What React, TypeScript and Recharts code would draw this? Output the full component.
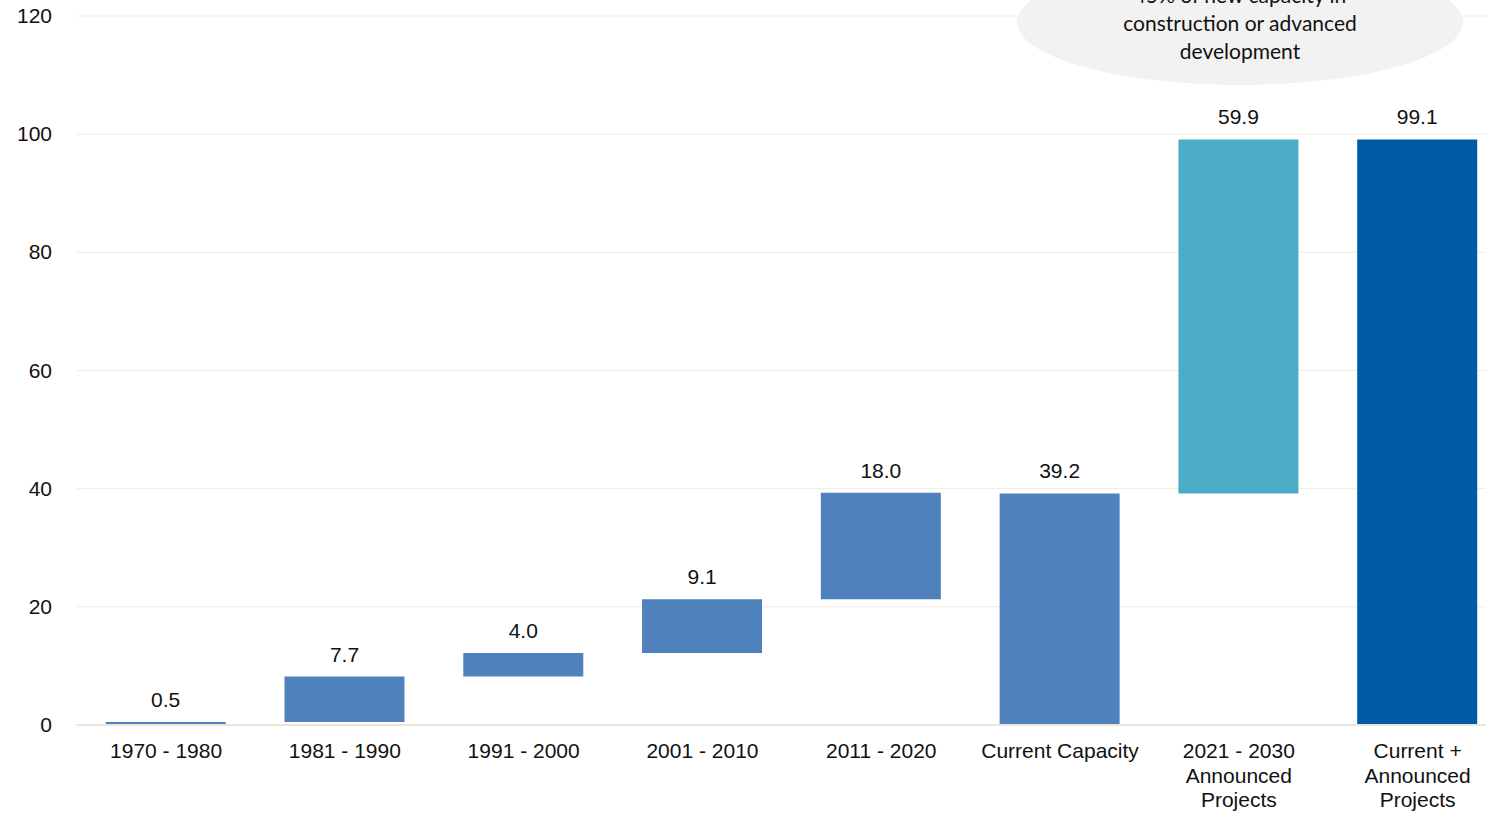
import React from "react";
import { BarChart, Bar, XAxis, YAxis, CartesianGrid, Cell, LabelList } from "recharts";

const categories = [
  "1970 - 1980",
  "1981 - 1990",
  "1991 - 2000",
  "2001 - 2010",
  "2011 - 2020",
  "Current Capacity",
  "2021 - 2030\nAnnounced\nProjects",
  "Current +\nAnnounced\nProjects",
];
const baseValues = [0, 0.5, 8.2, 12.2, 21.3, 0, 39.2, 0];
const stepValues = [0.5, 7.7, 4.0, 9.1, 18.0, 39.2, 59.9, 99.1];
const barColors = ["#4f81bd", "#4f81bd", "#4f81bd", "#4f81bd", "#4f81bd", "#4f81bd", "#4aacc6", "#005ba5"];
const yTicks = [0, 20, 40, 60, 80, 100, 120];
const calloutLines = ["45% of new capacity in", "construction or advanced", "development"];

const data = categories.map((c, i) => ({
  name: c,
  base: baseValues[i],
  value: stepValues[i],
}));

const FONT = "'Liberation Sans', Arial, sans-serif";
const SHIFT = 60;

const XTick = (props: any) => {
  const { x, y, payload } = props;
  const lines = String(payload.value).split("\n");
  return (
    <g>
      {lines.map((l: string, i: number) => (
        <text
          key={i}
          x={x}
          y={y + 25 + i * 24.5}
          textAnchor="middle"
          fontFamily={FONT}
          fontSize={21}
          fill="#111"
        >
          {l}
        </text>
      ))}
    </g>
  );
};

const YTick = (props: any) => {
  const { y, payload } = props;
  return (
    <text x={52} y={y + 7} textAnchor="end" fontFamily={FONT} fontSize={21} fill="#111">
      {payload.value}
    </text>
  );
};

const ValueLabel = (props: any) => {
  const { x, y, width, value } = props;
  return (
    <text
      x={x + width / 2}
      y={y - 15}
      textAnchor="middle"
      fontFamily={FONT}
      fontSize={21}
      fill="#111"
    >
      {Number(value).toFixed(1)}
    </text>
  );
};

export default function App() {
  return (
    <div
      style={{
        position: "absolute",
        left: 0,
        top: 0,
        width: 1486,
        height: 813,
        overflow: "hidden",
        background: "#fff",
      }}
    >
      <div style={{ position: "absolute", left: 0, top: -SHIFT }}>
        <BarChart
          width={1507}
          height={885}
          data={data}
          margin={{ top: 76, right: 0, bottom: 0, left: 0 }}
        >
          <CartesianGrid vertical={false} stroke="#eeebe1" strokeWidth={1} />
          <XAxis
            dataKey="name"
            interval={0}
            tickLine={false}
            axisLine={{ stroke: "#e8e5db", strokeWidth: 2 }}
            tick={<XTick />}
            height={100}
          />
          <YAxis
            domain={[0, 120]}
            ticks={yTicks}
            width={76.7}
            axisLine={false}
            tickLine={false}
            tick={<YTick />}
          />
          <Bar dataKey="base" stackId="w" fill="transparent" isAnimationActive={false} barSize={120} />
          <Bar dataKey="value" stackId="w" isAnimationActive={false} barSize={120}>
            {data.map((_, i) => (
              <Cell key={i} fill={barColors[i]} />
            ))}
            <LabelList dataKey="value" content={<ValueLabel />} />
          </Bar>
        </BarChart>
      </div>
      <svg
        width={1486}
        height={813}
        style={{ position: "absolute", left: 0, top: 0, pointerEvents: "none" }}
      >
        <ellipse cx={1240} cy={22} rx={223} ry={63} fill="#f2f2f2" />
        {calloutLines.map((l, i) => (
          <text
            key={i}
            x={1240}
            y={3 + i * 28}
            textAnchor="middle"
            fontFamily="Lato, 'Open Sans', sans-serif"
            fontSize={21}
            fill="#111"
          >
            {l}
          </text>
        ))}
      </svg>
    </div>
  );
}
